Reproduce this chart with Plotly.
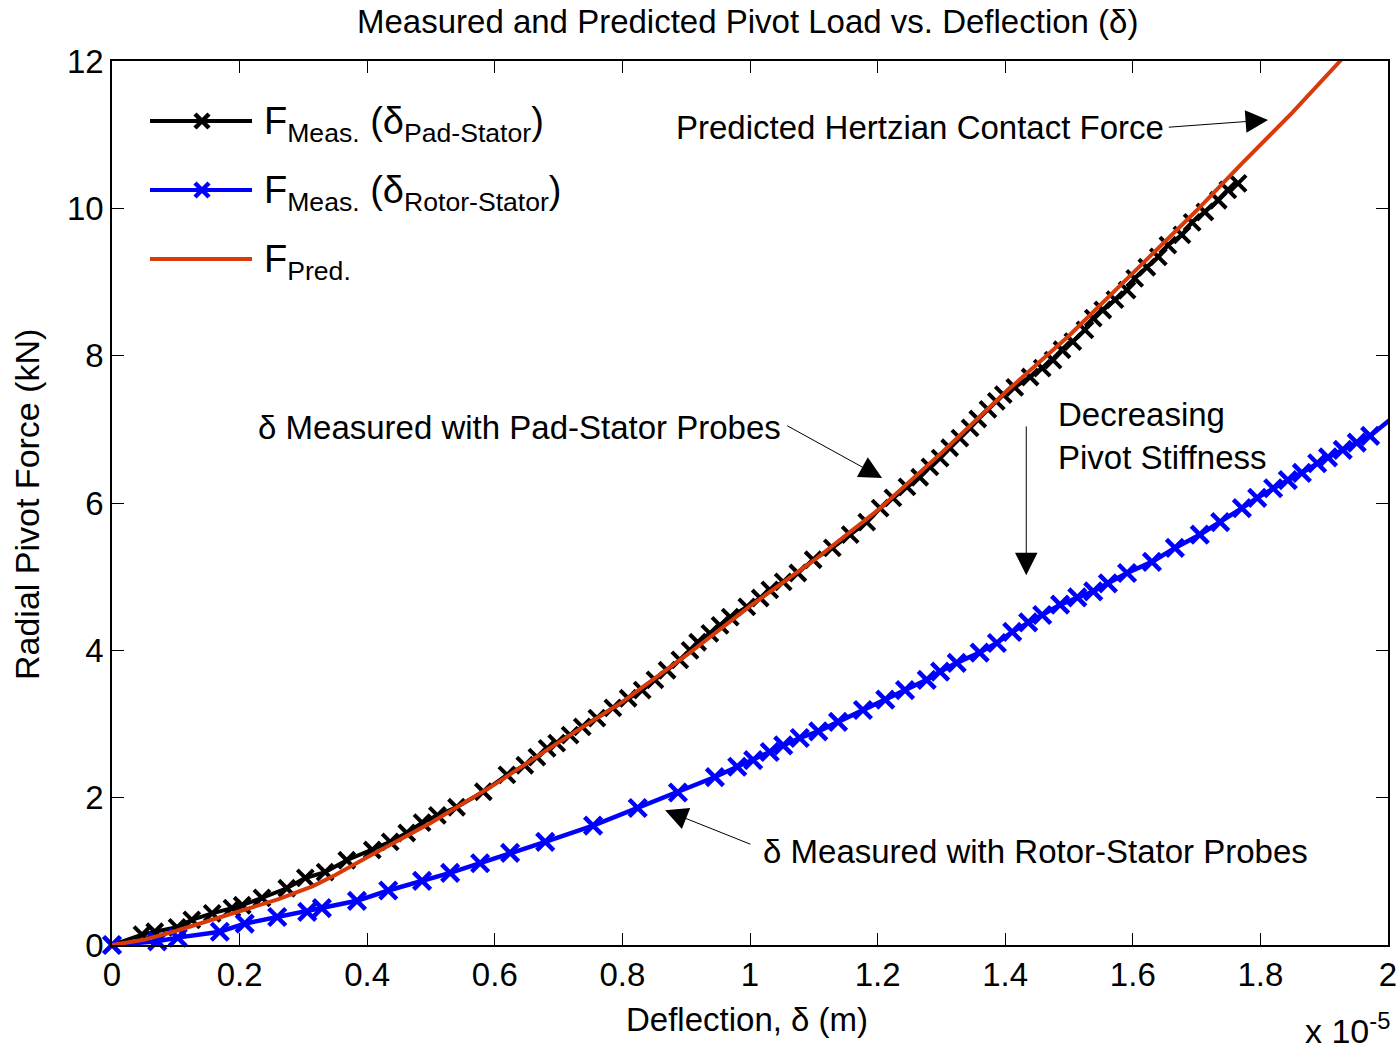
import plotly.graph_objects as go

# ---------------- data (deflection in 1e-5 m, force in kN) ----------------
pad_x = [0, 0.047, 0.067, 0.102, 0.125, 0.157, 0.188, 0.204, 0.235, 0.274, 0.303, 0.334,
         0.368, 0.408, 0.436, 0.462, 0.486, 0.51, 0.540, 0.582, 0.619, 0.647, 0.666, 0.682,
         0.697, 0.718, 0.737, 0.760, 0.785, 0.809, 0.831, 0.851, 0.870, 0.890, 0.906,
         0.918, 0.937, 0.953, 0.969, 0.995, 1.016, 1.031, 1.052, 1.075, 1.099, 1.129,
         1.157, 1.183, 1.204, 1.224, 1.246, 1.266, 1.282, 1.298, 1.313, 1.329, 1.345,
         1.357, 1.373, 1.386, 1.397, 1.415, 1.439, 1.458, 1.475, 1.489, 1.506, 1.525,
         1.538, 1.553, 1.572, 1.591, 1.603, 1.622, 1.640, 1.655, 1.677, 1.693, 1.713,
         1.734, 1.749, 1.765]
pad_f = [0, 0.14, 0.18, 0.24, 0.34, 0.43, 0.50, 0.54, 0.64, 0.77, 0.91, 0.99,
         1.15, 1.29, 1.40, 1.52, 1.66, 1.76, 1.87, 2.08, 2.31, 2.44, 2.55, 2.67,
         2.74, 2.85, 2.96, 3.08, 3.22, 3.35, 3.46, 3.60, 3.73, 3.87, 4.00,
         4.11, 4.23, 4.34, 4.45, 4.59, 4.71, 4.82, 4.93, 5.05, 5.23, 5.39,
         5.57, 5.74, 5.93, 6.07, 6.22, 6.35, 6.49, 6.61, 6.75, 6.88, 7.02,
         7.14, 7.27, 7.38, 7.47, 7.57, 7.71, 7.83, 7.94, 8.08, 8.19, 8.35,
         8.51, 8.62, 8.76, 8.89, 9.05, 9.20, 9.34, 9.50, 9.64, 9.81, 9.95,
         10.11, 10.25, 10.34]

rotor_x = [0, 0.071, 0.103, 0.169, 0.208, 0.259, 0.306, 0.329, 0.384, 0.433, 0.486, 0.53,
           0.577, 0.624, 0.679, 0.754, 0.824, 0.887, 0.945, 0.98, 1.005, 1.031, 1.052,
           1.078, 1.107, 1.138, 1.177, 1.212, 1.243, 1.277, 1.298, 1.324, 1.36, 1.387,
           1.411, 1.436, 1.458, 1.486, 1.513, 1.538, 1.561, 1.591, 1.63, 1.666, 1.705,
           1.737, 1.771, 1.795, 1.82, 1.843, 1.865, 1.889, 1.906, 1.929, 1.951, 1.972, 2.003]
rotor_f = [0, 0.05, 0.1, 0.18, 0.29, 0.38, 0.45, 0.5, 0.6, 0.74, 0.87, 0.98,
           1.11, 1.25, 1.4, 1.62, 1.86, 2.07, 2.28, 2.42, 2.51, 2.62, 2.71,
           2.81, 2.9, 3.03, 3.19, 3.33, 3.46, 3.6, 3.71, 3.83, 3.97, 4.1,
           4.25, 4.38, 4.48, 4.62, 4.72, 4.8, 4.91, 5.05, 5.2, 5.39, 5.57,
           5.74, 5.93, 6.07, 6.2, 6.31, 6.41, 6.54, 6.62, 6.72, 6.82, 6.91, 7.13]

pred_x = [0, 0.05, 0.1, 0.2, 0.26, 0.315, 0.35, 0.4, 0.5, 0.6, 0.7, 0.8, 0.9, 1.0, 1.1,
          1.2, 1.3, 1.4, 1.5, 1.6, 1.7, 1.77, 1.85, 1.925, 1.95]
pred_f = [0, 0.07, 0.19, 0.45, 0.62, 0.8, 0.95, 1.19, 1.66, 2.18, 2.75, 3.3, 3.93, 4.6, 5.22,
          5.9, 6.68, 7.5, 8.27, 9.12, 9.97, 10.6, 11.3, 12.0, 12.25]

x_ticks = [0, 0.2, 0.4, 0.6, 0.8, 1, 1.2, 1.4, 1.6, 1.8, 2]
x_tick_labels = ["0", "0.2", "0.4", "0.6", "0.8", "1", "1.2", "1.4", "1.6", "1.8", "2"]
y_ticks = [0, 2, 4, 6, 8, 10, 12]
y_tick_labels = ["0", "2", "4", "6", "8", "10", "12"]

legend_labels = ["F<sub>Meas.</sub> (δ<sub>Pad-Stator</sub>)",
                 "F<sub>Meas.</sub> (δ<sub>Rotor-Stator</sub>)",
                 "F<sub>Pred.</sub>"]

FONT = "Liberation Sans, Arial, sans-serif"
BLACK = "#000000"
BLUE = "#0000FF"
RED = "#D93A0A"
FS = 33

fig = go.Figure()

fig.add_trace(go.Scatter(x=pad_x, y=pad_f, mode="lines+markers",
                         line=dict(color=BLACK, width=4),
                         marker=dict(color=BLACK, symbol="x-thin", size=16,
                                     line=dict(width=4, color=BLACK)),
                         cliponaxis=False, showlegend=False))
fig.add_trace(go.Scatter(x=rotor_x, y=rotor_f, mode="lines+markers",
                         line=dict(color=BLUE, width=4.5),
                         marker=dict(color=BLUE, symbol="x-thin", size=17,
                                     line=dict(width=4.5, color=BLUE)),
                         cliponaxis=False, showlegend=False))
fig.add_trace(go.Scatter(x=pred_x, y=pred_f, mode="lines",
                         line=dict(color=RED, width=4), showlegend=False))

# ---------- custom legend on an overlay axis in pixel units ----------
leg_y = [121, 190, 259]
leg_cols = [BLACK, BLUE, RED]
for i in range(3):
    fig.add_trace(go.Scatter(x=[150, 252], y=[leg_y[i], leg_y[i]], mode="lines",
                             line=dict(color=leg_cols[i], width=4),
                             xaxis="x2", yaxis="y2", showlegend=False, hoverinfo="skip"))
    if i < 2:
        fig.add_trace(go.Scatter(x=[202], y=[leg_y[i]], mode="markers",
                                 marker=dict(symbol="x-thin", size=14,
                                             line=dict(width=4.5, color=leg_cols[i])),
                                 xaxis="x2", yaxis="y2", showlegend=False, hoverinfo="skip"))
    fig.add_annotation(x=262, y=leg_y[i] + 3, xref="x2", yref="y2", text=legend_labels[i],
                       showarrow=False, xanchor="left", yanchor="middle",
                       font=dict(family=FONT, size=38, color=BLACK))

ann_font = dict(family=FONT, size=FS, color=BLACK)
# text annotations
fig.add_annotation(x=1.652, y=11.10, text="Predicted Hertzian Contact Force", showarrow=False,
                   xanchor="right", yanchor="middle", font=ann_font)
fig.add_annotation(x=1.052, y=7.03, text="δ Measured with Pad-Stator Probes", showarrow=False,
                   xanchor="right", yanchor="middle", font=ann_font)
fig.add_annotation(x=1.480, y=6.91, text="Decreasing<br>Pivot Stiffness", showarrow=False,
                   xanchor="left", yanchor="middle", align="left", font=ann_font)
fig.add_annotation(x=1.017, y=1.276, text="δ Measured with Rotor-Stator Probes", showarrow=False,
                   xanchor="left", yanchor="middle", font=ann_font)

# arrows (tail -> head)
arrows = [((1.654, 11.10), (1.812, 11.20)),
          ((1.056, 7.06), (1.207, 6.34)),
          ((1.433, 7.06), (1.433, 5.02)),
          ((1.003, 1.36), (0.867, 1.83))]
for (tx, ty), (hx, hy) in arrows:
    fig.add_annotation(x=hx, y=hy, ax=tx, ay=ty, xref="x", yref="y", axref="x", ayref="y",
                       text="", showarrow=True, arrowhead=2, arrowsize=4.5, arrowwidth=1,
                       arrowcolor=BLACK, standoff=0, startstandoff=0)

# titles
fig.add_annotation(x=(747 - 112) / 1276, y=(945 - 22) / 884, xref="paper", yref="paper",
                   text="Measured and Predicted Pivot Load vs. Deflection (δ)",
                   showarrow=False, xanchor="center", yanchor="middle",
                   font=dict(family=FONT, size=FS, color=BLACK))
fig.add_annotation(x=(747 - 112) / 1276, y=-(1020 - 945) / 884, xref="paper", yref="paper",
                   text="Deflection, δ (m)", showarrow=False, xanchor="center", yanchor="middle",
                   font=dict(family=FONT, size=FS, color=BLACK))
fig.add_annotation(x=-(112 - 27) / 1276, y=(945 - 505) / 884, xref="paper", yref="paper",
                   text="Radial Pivot Force (kN)", showarrow=False, textangle=-90,
                   xanchor="center", yanchor="middle",
                   font=dict(family=FONT, size=34, color=BLACK))
fig.add_annotation(x=(1347 - 112) / 1276, y=-(1028 - 945) / 884, xref="paper", yref="paper",
                   text="x 10<sup>-5</sup>", showarrow=False, xanchor="center", yanchor="middle",
                   font=dict(family=FONT, size=34, color=BLACK))

axis_common = dict(showgrid=False, zeroline=False, showline=True, linecolor=BLACK, linewidth=1.5,
                   mirror="allticks", ticks="inside", ticklen=12, tickwidth=1, tickcolor=BLACK,
                   automargin=False,
                   tickfont=dict(family=FONT, size=FS, color=BLACK))
fig.update_layout(
    width=1400, height=1049,
    margin=dict(l=112, r=12, t=61, b=104, autoexpand=False),
    paper_bgcolor="white", plot_bgcolor="white",
    xaxis=dict(range=[0, 2], tickvals=x_ticks, ticktext=x_tick_labels, **axis_common),
    yaxis=dict(range=[0, 12], tickvals=y_ticks, ticktext=y_tick_labels, **axis_common),
    xaxis2=dict(range=[112, 1388], overlaying="x", visible=False, fixedrange=True),
    yaxis2=dict(range=[945, 61], overlaying="y", visible=False, fixedrange=True),
    showlegend=False,
)

fig.write_html("out.html")
